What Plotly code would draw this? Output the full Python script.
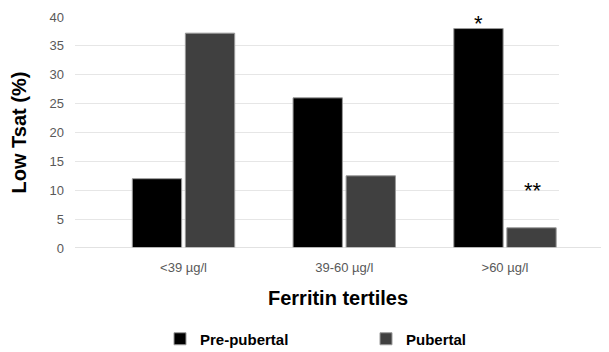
import plotly.graph_objects as go

categories = ["<39 µg/l", "39-60 µg/l", ">60 µg/l"]
pre_pubertal = [12, 26, 38]
pubertal = [37.2, 12.5, 3.5]
y_ticks = [0, 5, 10, 15, 20, 25, 30, 35, 40]

fig = go.Figure()
fig.add_trace(go.Bar(x=categories, y=pre_pubertal, name="<b>Pre-pubertal</b>", legend="legend",
                     marker=dict(color="#000000", line=dict(color="#9a9a9a", width=1))))
fig.add_trace(go.Bar(x=categories, y=pubertal, name="<b>Pubertal</b>", legend="legend2",
                     marker=dict(color="#404040", line=dict(color="#9a9a9a", width=1))))

fig.add_annotation(x=categories[2], xref="x", y=1 + 8 / 231, yref="paper", xshift=-26, text="*",
                   showarrow=False, yanchor="top",
                   font=dict(family="Liberation Sans", size=22, color="#000000"))
fig.add_annotation(x=categories[2], y=10, xshift=28, text="**",
                   showarrow=False, yanchor="middle",
                   font=dict(family="Liberation Sans", size=22, color="#000000"))

fig.add_annotation(x=0.543, y=-0.218, xref="paper", yref="paper", text="<b>Ferritin tertiles</b>",
                   showarrow=False, yanchor="middle",
                   font=dict(family="Liberation Sans", size=20, color="#000000"))

fig.add_shape(type="line", xref="paper", yref="y", x0=0, x1=(608 - 75) / 484, y0=0, y1=0,
              line=dict(color="#d9d9d9", width=1.5))

legend_font = dict(family="Liberation Sans", size=15, color="#000000")
fig.update_layout(
    width=609, height=352,
    margin=dict(l=67, r=58, t=9, b=112, autoexpand=False),
    paper_bgcolor="white", plot_bgcolor="white",
    barmode="group", bargap=0.34, bargroupgap=0.07,
    showlegend=True,
    legend=dict(orientation="h", x=(160 - 75) / 484, y=-0.394, xanchor="left", yanchor="middle",
                font=legend_font, itemwidth=30),
    legend2=dict(orientation="h", x=(366 - 75) / 484, y=-0.394, xanchor="left", yanchor="middle",
                 font=legend_font, itemwidth=30),
    xaxis=dict(range=[-0.675, 2.336], showgrid=False, showline=False, ticks="",
               tickfont=dict(family="Liberation Sans", size=13, color="#595959"),
               ticklabelstandoff=10, automargin=False),
    yaxis=dict(range=[0, 40], tickvals=y_ticks, showgrid=True, gridcolor="#e6e6e6", gridwidth=1.2,
               zeroline=False, showline=False, ticks="", automargin=False,
               tickfont=dict(family="Liberation Sans", size=13, color="#595959"),
               ticklabelstandoff=10,
               title=dict(text="<b>Low Tsat (%)</b>", standoff=18,
                          font=dict(family="Liberation Sans", size=20, color="#000000"))),
)

fig.write_html("out.html")
